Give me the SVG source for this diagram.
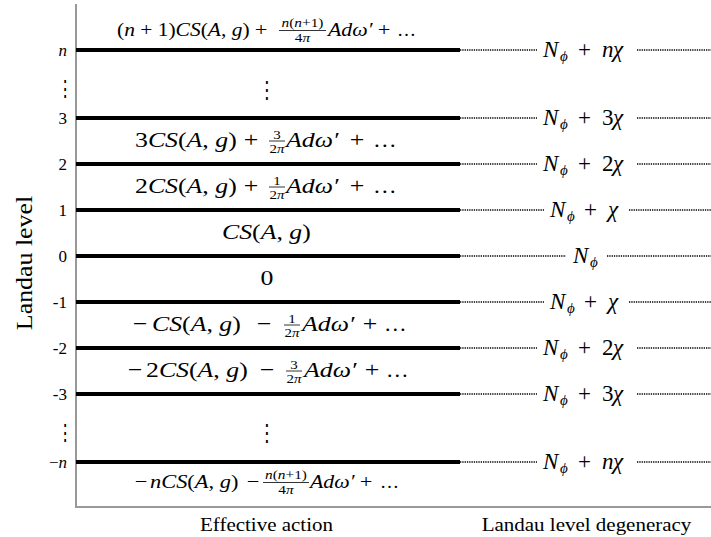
<svg xmlns="http://www.w3.org/2000/svg" width="711" height="537" viewBox="0 0 711 537">
<style>
.m{font-family:'Liberation Serif','DejaVu Serif',serif;fill:#000}
.i{font-style:italic}
.big{font-size:21.5px}
.mid{font-size:19px}
.fr{font-size:12.5px}
.frs{font-size:13px}
.tick{font-size:17px}
.rl{font-size:23px}
.sub{font-size:15px;font-style:italic}
.c{text-anchor:middle}
.thick{stroke:#000;stroke-width:4}
.dot{stroke:#000;stroke-width:1.5;stroke-dasharray:1.3 1;fill:none}
.axis{stroke:#999;stroke-width:2;fill:none}
.bar{stroke:#000;stroke-width:0.8}
.vd{font-family:'DejaVu Serif',serif;fill:#000}
</style>
<rect width="711" height="537" fill="#fff"/>
<g id="axes">
<path class="axis" d="M76,4 V507 H711"/>
<text class="m c" font-size="22.5" transform="translate(32,263) rotate(-90) scale(1.15,1)">Landau level</text>
<text class="m c" font-size="18.5" transform="translate(266.5,531) scale(1.135,1)">Effective action</text>
<text class="m c" font-size="18.5" transform="translate(586.5,531) scale(1.135,1)">Landau level degeneracy</text>
</g>
<g id="connectors">
<line class="dot" x1="460" y1="50" x2="537" y2="50"/><line class="dot" x1="637" y1="50" x2="711" y2="50"/>
<line class="dot" x1="460" y1="118" x2="537" y2="118"/><line class="dot" x1="637" y1="118" x2="711" y2="118"/>
<line class="dot" x1="460" y1="164" x2="537" y2="164"/><line class="dot" x1="637" y1="164" x2="711" y2="164"/>
<line class="dot" x1="460" y1="210" x2="544" y2="210"/><line class="dot" x1="629" y1="210" x2="711" y2="210"/>
<line class="dot" x1="460" y1="256" x2="566" y2="256"/><line class="dot" x1="607" y1="256" x2="711" y2="256"/>
<line class="dot" x1="460" y1="302" x2="544" y2="302"/><line class="dot" x1="629" y1="302" x2="711" y2="302"/>
<line class="dot" x1="460" y1="348" x2="537" y2="348"/><line class="dot" x1="637" y1="348" x2="711" y2="348"/>
<line class="dot" x1="460" y1="394" x2="537" y2="394"/><line class="dot" x1="637" y1="394" x2="711" y2="394"/>
<line class="dot" x1="460" y1="462" x2="537" y2="462"/><line class="dot" x1="637" y1="462" x2="711" y2="462"/>
</g>
<g id="level-n">
<line class="thick" x1="76" y1="50" x2="460" y2="50"/>
<text class="m tick i" x="67" y="56" text-anchor="end">n</text>
<text class="m rl" y="57"><tspan class="i" x="543">N</tspan><tspan class="sub" x="560" dy="4">ϕ</tspan><tspan x="578" dy="-4">+</tspan><tspan class="i" x="602">n</tspan><tspan class="i" x="613">χ</tspan></text>
</g>
<g id="level-3">
<line class="thick" x1="76" y1="118" x2="460" y2="118"/>
<text class="m tick" x="67" y="124" text-anchor="end">3</text>
<text class="m rl" y="125"><tspan class="i" x="543">N</tspan><tspan class="sub" x="560" dy="4">ϕ</tspan><tspan x="578" dy="-4">+</tspan><tspan x="602">3</tspan><tspan class="i" x="613">χ</tspan></text>
</g>
<g id="level-2">
<line class="thick" x1="76" y1="164" x2="460" y2="164"/>
<text class="m tick" x="67" y="170" text-anchor="end">2</text>
<text class="m rl" y="171"><tspan class="i" x="543">N</tspan><tspan class="sub" x="560" dy="4">ϕ</tspan><tspan x="578" dy="-4">+</tspan><tspan x="602">2</tspan><tspan class="i" x="613">χ</tspan></text>
</g>
<g id="level-1">
<line class="thick" x1="76" y1="210" x2="460" y2="210"/>
<text class="m tick" x="67" y="216" text-anchor="end">1</text>
<text class="m rl" y="217"><tspan class="i" x="550">N</tspan><tspan class="sub" x="567" dy="4">ϕ</tspan><tspan x="584" dy="-4">+</tspan><tspan class="i" x="608">χ</tspan></text>
</g>
<g id="level-0">
<line class="thick" x1="76" y1="256" x2="460" y2="256"/>
<text class="m tick" x="67" y="262" text-anchor="end">0</text>
<text class="m rl" y="263"><tspan class="i" x="573">N</tspan><tspan class="sub" x="590" dy="4">ϕ</tspan></text>
</g>
<g id="level-m1">
<line class="thick" x1="76" y1="302" x2="460" y2="302"/>
<text class="m tick" x="67" y="308" text-anchor="end">-1</text>
<text class="m rl" y="309"><tspan class="i" x="550">N</tspan><tspan class="sub" x="567" dy="4">ϕ</tspan><tspan x="584" dy="-4">+</tspan><tspan class="i" x="608">χ</tspan></text>
</g>
<g id="level-m2">
<line class="thick" x1="76" y1="348" x2="460" y2="348"/>
<text class="m tick" x="67" y="354" text-anchor="end">-2</text>
<text class="m rl" y="355"><tspan class="i" x="543">N</tspan><tspan class="sub" x="560" dy="4">ϕ</tspan><tspan x="578" dy="-4">+</tspan><tspan x="602">2</tspan><tspan class="i" x="613">χ</tspan></text>
</g>
<g id="level-m3">
<line class="thick" x1="76" y1="394" x2="460" y2="394"/>
<text class="m tick" x="67" y="400" text-anchor="end">-3</text>
<text class="m rl" y="401"><tspan class="i" x="543">N</tspan><tspan class="sub" x="560" dy="4">ϕ</tspan><tspan x="578" dy="-4">+</tspan><tspan x="602">3</tspan><tspan class="i" x="613">χ</tspan></text>
</g>
<g id="level-mn">
<line class="thick" x1="76" y1="462" x2="460" y2="462"/>
<text class="m tick" x="67" y="468" text-anchor="end">−<tspan class="i">n</tspan></text>
<text class="m rl" y="469"><tspan class="i" x="543">N</tspan><tspan class="sub" x="560" dy="4">ϕ</tspan><tspan x="578" dy="-4">+</tspan><tspan class="i" x="602">n</tspan><tspan class="i" x="613">χ</tspan></text>
</g>
<g id="dots">
<text class="vd c" font-size="16" transform="translate(65,96) scale(1,1.35)">⋮</text>
<text class="vd c" font-size="18" transform="translate(267,98) scale(1,1.35)">⋮</text>
<text class="vd c" font-size="16" transform="translate(65,440) scale(1,1.35)">⋮</text>
<text class="vd c" font-size="18" transform="translate(267,441) scale(1,1.35)">⋮</text>
</g>
<g id="action-top">
<text class="m mid" transform="translate(117,36) scale(1.13,1)">(<tspan class="i">n</tspan> + 1)<tspan class="i">CS</tspan>(<tspan class="i">A</tspan>, <tspan class="i">g</tspan>)</text>
<text class="m mid c" transform="translate(261,36) scale(1.18,1)">+</text>
<text class="m frs c" transform="translate(302.5,26.5) scale(1.18,1)"><tspan class="i">n</tspan>(<tspan class="i">n</tspan>+1)</text>
<line class="bar" x1="279" y1="30.5" x2="326" y2="30.5"/>
<text class="m frs c" transform="translate(302.5,41.5) scale(1.18,1)">4<tspan class="i">π</tspan></text>
<text class="m mid i" transform="translate(328,36) scale(1.15,1)">Adω′</text>
<text class="m mid c" transform="translate(384,36) scale(1.18,1)">+</text>
<text class="m mid" transform="translate(397,36)">…</text>
</g>
<g id="action-3">
<text class="m big" transform="translate(135,147) scale(1.2,1)">3<tspan class="i">CS</tspan>(<tspan class="i">A</tspan>, <tspan class="i">g</tspan>)</text>
<text class="m big c" transform="translate(251,147) scale(1.2,1)">+</text>
<text class="m fr c" transform="translate(277,138.5) scale(1.2,1)">3</text>
<line class="bar" x1="269" y1="141" x2="285" y2="141"/>
<text class="m fr c" transform="translate(277,152.5) scale(1.2,1)">2<tspan class="i">π</tspan></text>
<text class="m big i" transform="translate(286,147) scale(1.2,1)">Adω′</text>
<text class="m big c" transform="translate(357,147) scale(1.2,1)">+</text>
<text class="m big" transform="translate(373,147) scale(1.1,1)">…</text>
</g>
<g id="action-2">
<text class="m big" transform="translate(135,193) scale(1.2,1)">2<tspan class="i">CS</tspan>(<tspan class="i">A</tspan>, <tspan class="i">g</tspan>)</text>
<text class="m big c" transform="translate(251,193) scale(1.2,1)">+</text>
<text class="m fr c" transform="translate(277,184.5) scale(1.2,1)">1</text>
<line class="bar" x1="269" y1="187" x2="285" y2="187"/>
<text class="m fr c" transform="translate(277,198.5) scale(1.2,1)">2<tspan class="i">π</tspan></text>
<text class="m big i" transform="translate(286,193) scale(1.2,1)">Adω′</text>
<text class="m big c" transform="translate(357,193) scale(1.2,1)">+</text>
<text class="m big" transform="translate(373,193) scale(1.1,1)">…</text>
</g>
<g id="action-1">
<text class="m big" transform="translate(222,239) scale(1.2,1)"><tspan class="i">CS</tspan>(<tspan class="i">A</tspan>, <tspan class="i">g</tspan>)</text>
</g>
<g id="action-0">
<text class="m big c" transform="translate(267,285) scale(1.2,1)">0</text>
</g>
<g id="action-m1">
<text class="m big c" transform="translate(140,331) scale(1.2,1)">−</text>
<text class="m big" transform="translate(152,331) scale(1.2,1)"><tspan class="i">CS</tspan>(<tspan class="i">A</tspan>, <tspan class="i">g</tspan>)</text>
<text class="m big c" transform="translate(264,331) scale(1.2,1)">−</text>
<text class="m fr c" transform="translate(292,322.5) scale(1.2,1)">1</text>
<line class="bar" x1="284" y1="325" x2="300" y2="325"/>
<text class="m fr c" transform="translate(292,336.5) scale(1.2,1)">2<tspan class="i">π</tspan></text>
<text class="m big i" transform="translate(302,331) scale(1.2,1)">Adω′</text>
<text class="m big c" transform="translate(370,331) scale(1.2,1)">+</text>
<text class="m big" transform="translate(384,331) scale(1.05,1)">…</text>
</g>
<g id="action-m2">
<text class="m big c" transform="translate(135,377) scale(1.2,1)">−</text>
<text class="m big" transform="translate(146,377) scale(1.2,1)">2<tspan class="i">CS</tspan>(<tspan class="i">A</tspan>, <tspan class="i">g</tspan>)</text>
<text class="m big c" transform="translate(267,377) scale(1.2,1)">−</text>
<text class="m fr c" transform="translate(294,368.5) scale(1.2,1)">3</text>
<line class="bar" x1="286" y1="371" x2="302" y2="371"/>
<text class="m fr c" transform="translate(294,382.5) scale(1.2,1)">2<tspan class="i">π</tspan></text>
<text class="m big i" transform="translate(304,377) scale(1.2,1)">Adω′</text>
<text class="m big c" transform="translate(372,377) scale(1.2,1)">+</text>
<text class="m big" transform="translate(386,377) scale(1.05,1)">…</text>
</g>
<g id="action-bottom">
<text class="m mid c" transform="translate(141,488) scale(1.18,1)">−</text>
<text class="m mid" transform="translate(150,488) scale(1.18,1)"><tspan class="i">nCS</tspan>(<tspan class="i">A</tspan>, <tspan class="i">g</tspan>)</text>
<text class="m mid c" transform="translate(253,488) scale(1.18,1)">−</text>
<text class="m frs c" transform="translate(286,478.5) scale(1.18,1)"><tspan class="i">n</tspan>(<tspan class="i">n</tspan>+1)</text>
<line class="bar" x1="263" y1="482.5" x2="309" y2="482.5"/>
<text class="m frs c" transform="translate(286,493.5) scale(1.18,1)">4<tspan class="i">π</tspan></text>
<text class="m mid i" transform="translate(310,488) scale(1.15,1)">Adω′</text>
<text class="m mid c" transform="translate(366,488) scale(1.18,1)">+</text>
<text class="m mid" transform="translate(380,488)">…</text>
</g>
</svg>
